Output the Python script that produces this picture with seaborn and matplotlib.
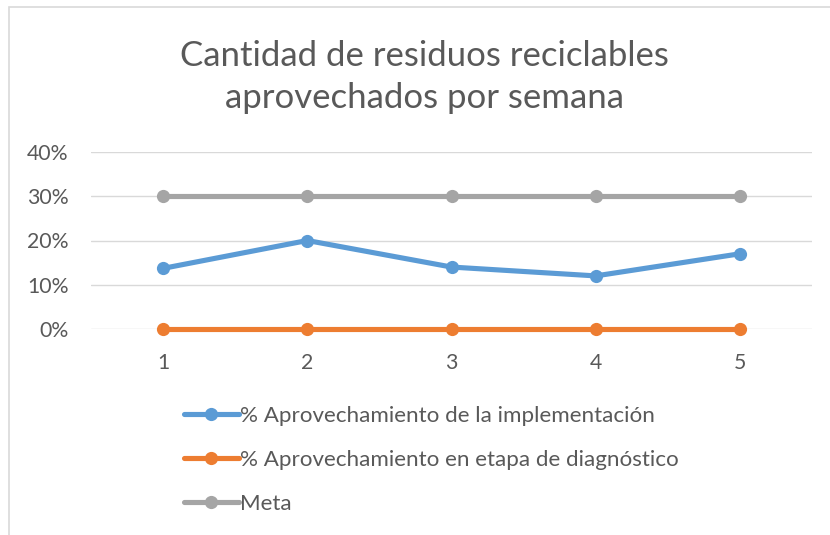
import matplotlib
matplotlib.use("Agg")
import matplotlib.pyplot as plt
import seaborn as sns
import pandas as pd
from matplotlib.lines import Line2D
from matplotlib.patches import Rectangle

weeks = [1, 2, 3, 4, 5]
implementacion = [0.137, 0.20, 0.14, 0.12, 0.17]
diagnostico = [0.0, 0.0, 0.0, 0.0, 0.0]
meta = [0.30, 0.30, 0.30, 0.30, 0.30]
series_names = ["% Aprovechamiento de la implementación",
                "% Aprovechamiento en etapa de diagnóstico",
                "Meta"]
colors = ["#5B9BD5", "#ED7D31", "#A5A5A5"]
y_ticks = [0, 0.1, 0.2, 0.3, 0.4]
y_ticklabels = ["0%", "10%", "20%", "30%", "40%"]
title = "Cantidad de residuos reciclables\naprovechados por semana"

sns.set_theme(style="white")
plt.rcParams['font.family'] = ['Lato', 'DejaVu Sans']

df = pd.DataFrame({
    "Semana": weeks * 3,
    "Valor": implementacion + diagnostico + meta,
    "Serie": [series_names[0]] * 5 + [series_names[1]] * 5 + [series_names[2]] * 5,
})

fig = plt.figure(figsize=(8.3, 5.35), dpi=100)
ax = fig.add_axes([91 / 830, 1 - 329 / 535, (812 - 91) / 830, (329 - 152) / 535])

order_draw = [2, 0, 1]
for i in order_draw:
    sub = df[df["Serie"] == series_names[i]]
    sns.lineplot(data=sub, x="Semana", y="Valor", ax=ax, color=colors[i],
                 linewidth=3.7, marker="o", markersize=9.5, markeredgewidth=0,
                 legend=False, zorder=3)

ax.set_xlim(0.5, 5.5)
ax.set_ylim(0, 0.4)
ax.set_yticks(y_ticks)
ax.set_yticklabels(y_ticklabels)
ax.set_xticks(weeks)
ax.set_xticklabels([str(w) for w in weeks])
ax.set_xlabel("")
ax.set_ylabel("")
for s in ax.spines.values():
    s.set_visible(False)
ax.grid(axis="y", color="#D9D9D9", linewidth=1.0, zorder=0)
ax.set_axisbelow(True)
ax.tick_params(axis="both", length=0, labelsize=15.3, labelcolor="#595959")
ax.tick_params(axis="y", pad=16)
ax.tick_params(axis="x", pad=17)
for ln in ax.lines:
    ln.set_clip_on(False)

fig.text(424 / 830, 1 - 77 / 535, title, ha="center", va="center",
         fontsize=25, color="#595959", linespacing=1.36)

handles = [Line2D([0], [0], color=c, linewidth=3.7, marker="o", markersize=9.5,
                  markeredgewidth=0) for c in colors]
leg = fig.legend(handles, series_names, loc="upper left",
                 bbox_to_anchor=(175 / 830, 1 - 397 / 535), frameon=False,
                 fontsize=16.1, labelspacing=1.08, handlelength=2.45,
                 handletextpad=0.05, borderaxespad=0)
for t in leg.get_texts():
    t.set_color("#595959")

fig.patches.append(Rectangle((9 / 830, -0.05), 1.2, 1 - 7 / 535 + 0.05,
                             transform=fig.transFigure, fill=False,
                             edgecolor="#D9D9D9", linewidth=1.2))

fig.savefig("out.png", dpi=100)
